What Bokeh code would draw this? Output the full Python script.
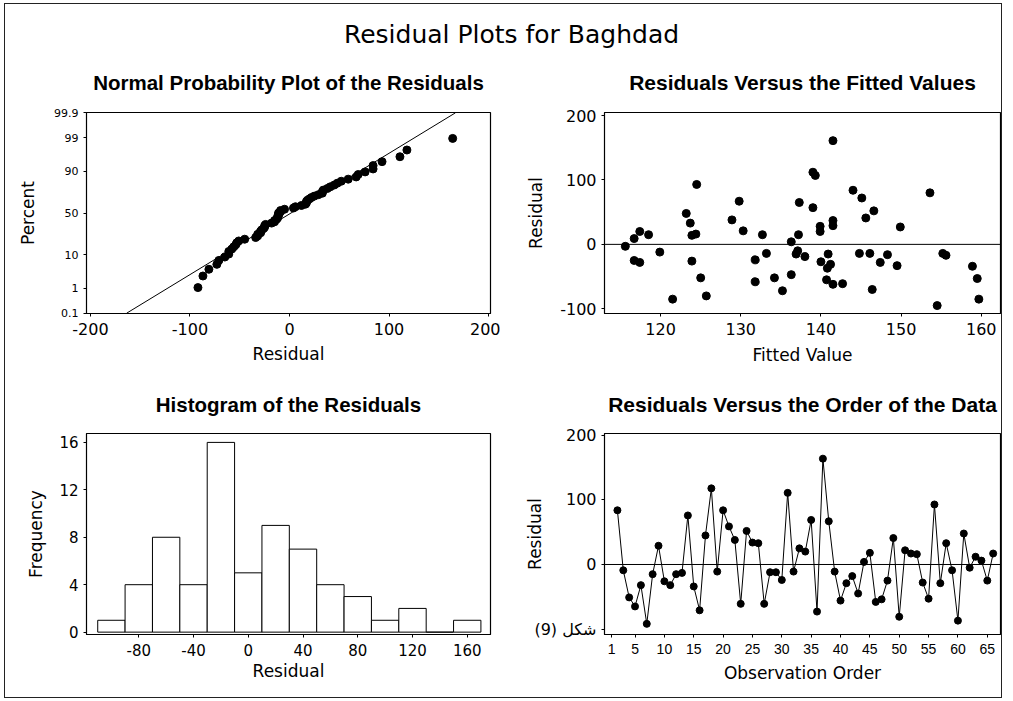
from statistics import NormalDist
import numpy as np
from bokeh.plotting import figure
from bokeh.layouts import column, row
from bokeh.models import Range1d, FixedTicker, Span, Label
from bokeh.embed import file_html
from bokeh.resources import INLINE

# ---------------- data ----------------
main_title = "Residual Plots for Baghdad"
figure_note = "شكل (9)"

order_obs = list(range(2, 67))
order_resid = [84, -9, -51, -65, -32, -92, -15, 29, -26, -32, -15, -13, 76, -34, -71,
               45, 118, -11, 84, 59, 38, -61, 52, 34, 33, -61, -12, -12, -24, 111,
               -11, 25, 20, 69, -73, 164, 67, -11, -56, -29, -18, -45, 4, 18, -58,
               -54, -25, 41, -81, 22, 17, 16, -28, -53, 93, -29, 33, -9, -87, 48,
               -5, 12, 6, -25, 17]

fit_x = [115.6, 116.7, 116.7, 117.4, 117.4, 118.5, 119.9, 121.5, 123.2, 123.7,
         123.9, 124.4, 123.9, 124.5, 125.0, 125.7, 128.9, 129.8, 130.3, 131.8,
         131.8, 132.7, 133.2, 134.2, 135.2, 136.3, 136.3, 136.9, 137.1, 137.2,
         137.3, 138.0, 139.0, 139.3, 139.0, 139.9, 139.9, 140.0, 140.9, 140.8,
         141.2, 140.7, 141.5, 141.5, 141.5, 141.5, 142.7, 144.0, 144.8, 145.1,
         145.6, 146.1, 146.4, 146.6, 147.4, 148.3, 149.5, 149.9, 153.6, 154.5,
         155.2, 155.6, 158.9, 159.5, 159.7]
fit_resid = [-3, 9, -25, 20, -28, 15, -12, -85, 48, 33,
             14, 16, -26, 93, -52, -80, 38, 67, 21, -24,
             -58, 15, -14, -52, -72, 4, -47, -15, -10, 15,
             65, -19, 112, 107, 57, 28, 20, -27, -15, -37,
             -31, -55, 161, 37, 29, -62, -61, 84, -14, 72,
             41, -14, -70, 52, -28, -16, -33, 27, 80, -95,
             -14, -17, -34, -53, -85]

hist_centers = [-100, -80, -60, -40, -20, 0, 20, 40, 60, 80, 100, 120, 140, 160]
hist_counts = [1, 4, 8, 4, 16, 5, 9, 7, 4, 3, 1, 2, 0, 1]
hist_bin_width = 20

prob_percent_ticks = [0.1, 1, 10, 50, 90, 99, 99.9]
prob_tick_labels = ["0.1", "1", "10", "50", "90", "99", "99.9"]
prob_x_ticks = [-200, -100, 0, 100, 200]
fit_x_ticks = [120, 130, 140, 150, 160]
resid_y_ticks = [-100, 0, 100, 200]
hist_x_ticks = [-80, -40, 0, 40, 80, 120, 160]
hist_y_ticks = [0, 4, 8, 12, 16]
order_x_ticks = [1, 5, 10, 15, 20, 25, 30, 35, 40, 45, 50, 55, 60, 65]

# ---------------- styling helpers ----------------
TICK_FONT = "DejaVu Sans"
LABEL_FONT = "DejaVu Sans"
TITLE_FONT = "Liberation Sans"


def hyphen_labels(ticks):
    return {t: str(t) for t in ticks if t < 0}


def make_fig(title, x_range, y_range, left, fw, right, top, fh, bottom, standoff):
    p = figure(output_backend="svg", toolbar_location=None,
               x_range=x_range, y_range=y_range,
               frame_width=fw, frame_height=fh,
               min_border_left=left, min_border_right=right,
               min_border_top=top, min_border_bottom=bottom,
               background_fill_color="white", border_fill_color="white",
               outline_line_color="black", outline_line_width=1.2)
    p.title.text = title
    p.title.align = "center"
    p.title.text_font = TITLE_FONT
    p.title.text_font_style = "bold"
    p.title.text_font_size = "20.5px"
    p.title.text_color = "black"
    p.title.standoff = standoff
    p.xgrid.visible = False
    p.ygrid.visible = False
    for ax in (p.xaxis[0], p.yaxis[0]):
        ax.axis_line_color = "black"
        ax.major_tick_line_color = "black"
        ax.major_tick_out = 3
        ax.major_tick_in = 0
        ax.minor_tick_line_color = None
        ax.major_label_text_font = TICK_FONT
        ax.major_label_text_font_size = "16px"
        ax.major_label_text_color = "black"
        ax.axis_label_text_font = LABEL_FONT
        ax.axis_label_text_font_size = "17px"
        ax.axis_label_text_font_style = "normal"
        ax.axis_label_text_color = "black"
    p.xaxis[0].major_label_standoff = 6
    p.xaxis[0].axis_label_standoff = 7
    p.yaxis[0].major_label_standoff = 5
    p.yaxis[0].axis_label_standoff = 11
    return p


# ---------------- title strip ----------------
W_TOTAL = 996
H_TITLE = 45
ptitle = figure(output_backend="svg", toolbar_location=None,
                x_range=Range1d(0, W_TOTAL), y_range=Range1d(0, H_TITLE),
                frame_width=W_TOTAL, frame_height=H_TITLE,
                min_border=0, outline_line_color=None,
                background_fill_color="white", border_fill_color="white")
ptitle.axis.visible = False
ptitle.grid.visible = False
ptitle.add_layout(Label(x=506, y=H_TITLE - 30, text=main_title, text_align="center",
                        text_baseline="middle", text_font="DejaVu Sans",
                        text_font_size="25px", text_color="black"))

# ---------------- normal probability plot ----------------
nd = NormalDist()
n = len(order_resid)
sorted_resid = sorted(order_resid)
z_pts = [nd.inv_cdf((i + 1 - 0.3) / (n + 0.4)) for i in range(n)]
mu = float(np.mean(order_resid))
sigma = float(np.std(order_resid, ddof=1))
z_ticks = [round(nd.inv_cdf(pc / 100.0), 4) if pc != 50 else 0.0 for pc in prob_percent_ticks]
z_line = [z_ticks[0], z_ticks[-1]]
x_line = [mu + sigma * zz for zz in z_line]

p1 = make_fig("Normal Probability Plot of the Residuals",
              Range1d(-204, 202), Range1d(-3.1, 3.1), 81, 404, 10, 63, 201, 58, 37)
p1.line(x_line, z_line, line_color="black", line_width=1)
p1.scatter(sorted_resid, z_pts, size=8, color="black")
p1.xaxis.ticker = FixedTicker(ticks=prob_x_ticks)
p1.xaxis.major_label_overrides = hyphen_labels(prob_x_ticks)
p1.yaxis.ticker = FixedTicker(ticks=z_ticks)
p1.yaxis.major_label_overrides = {zt: lab for zt, lab in zip(z_ticks, prob_tick_labels)}
p1.yaxis.major_label_text_font_size = "11px"
p1.xaxis.axis_label = "Residual"
p1.yaxis.axis_label = "Percent"
p1.yaxis.axis_label_standoff = 13
p1.xaxis.axis_label_standoff = 6

# ---------------- residuals vs fitted ----------------
p2 = make_fig("Residuals Versus the Fitted Values",
              Range1d(113.0, 162.4), Range1d(-107.3, 204.7), 104, 396, 1, 63, 201, 58, 37)
p2.title.text_font_size = "21px"
p2.add_layout(Span(location=0, dimension="width", line_color="black", line_width=1))
p2.scatter(fit_x, fit_resid, size=8, color="black")
p2.xaxis.ticker = FixedTicker(ticks=fit_x_ticks)
p2.yaxis.ticker = FixedTicker(ticks=resid_y_ticks)
p2.yaxis.major_label_overrides = hyphen_labels(resid_y_ticks)
p2.xaxis.axis_label = "Fitted Value"
p2.yaxis.axis_label = "Residual"

# ---------------- histogram ----------------
p3 = make_fig("Histogram of the Residuals",
              Range1d(-118.2, 177), Range1d(-0.2, 16.75), 81, 404, 10, 62, 201, 63, 36)
p3.vbar(x=hist_centers, width=hist_bin_width, top=hist_counts, bottom=0,
        fill_color="white", line_color="black", line_width=1)
p3.xaxis.ticker = FixedTicker(ticks=hist_x_ticks)
p3.xaxis.major_label_overrides = hyphen_labels(hist_x_ticks)
p3.yaxis.ticker = FixedTicker(ticks=hist_y_ticks)
p3.xaxis.major_label_text_font_size = "15px"
p3.yaxis.major_label_text_font_size = "15px"
p3.xaxis.axis_label = "Residual"
p3.yaxis.axis_label = "Frequency"
p3.yaxis.axis_label_standoff = 10
p3.xaxis.axis_label_standoff = 2

# ---------------- residuals vs order ----------------
p4 = make_fig("Residuals Versus the Order of the Data",
              Range1d(-0.2, 67.25), Range1d(-108.5, 203), 104, 396, 1, 62, 201, 63, 36)
p4.title.text_font_size = "21px"
p4.add_layout(Span(location=0, dimension="width", line_color="black", line_width=1))
p4.line(order_obs, order_resid, line_color="black", line_width=1)
p4.scatter(order_obs, order_resid, size=7, color="black")
p4.xaxis.ticker = FixedTicker(ticks=order_x_ticks)
p4.xaxis.major_label_text_font = "Liberation Sans"
p4.xaxis.major_label_text_font_size = "14px"
p4.yaxis.ticker = FixedTicker(ticks=resid_y_ticks)
# the figure caption covers the -100 label in the original
p4.yaxis.major_label_overrides = {-100: figure_note}
p4.xaxis.axis_label = "Observation Order"
p4.yaxis.axis_label = "Residual"
p4.xaxis.axis_label_standoff = 6
p4.yaxis.axis_label_standoff = -14

layout = column(ptitle, row(p1, p2), row(p3, p4),
                margin=(3, 0, 0, 4),
                styles={"border": "1px solid #222"})

open("out.html", "w").write(file_html(layout, INLINE))
